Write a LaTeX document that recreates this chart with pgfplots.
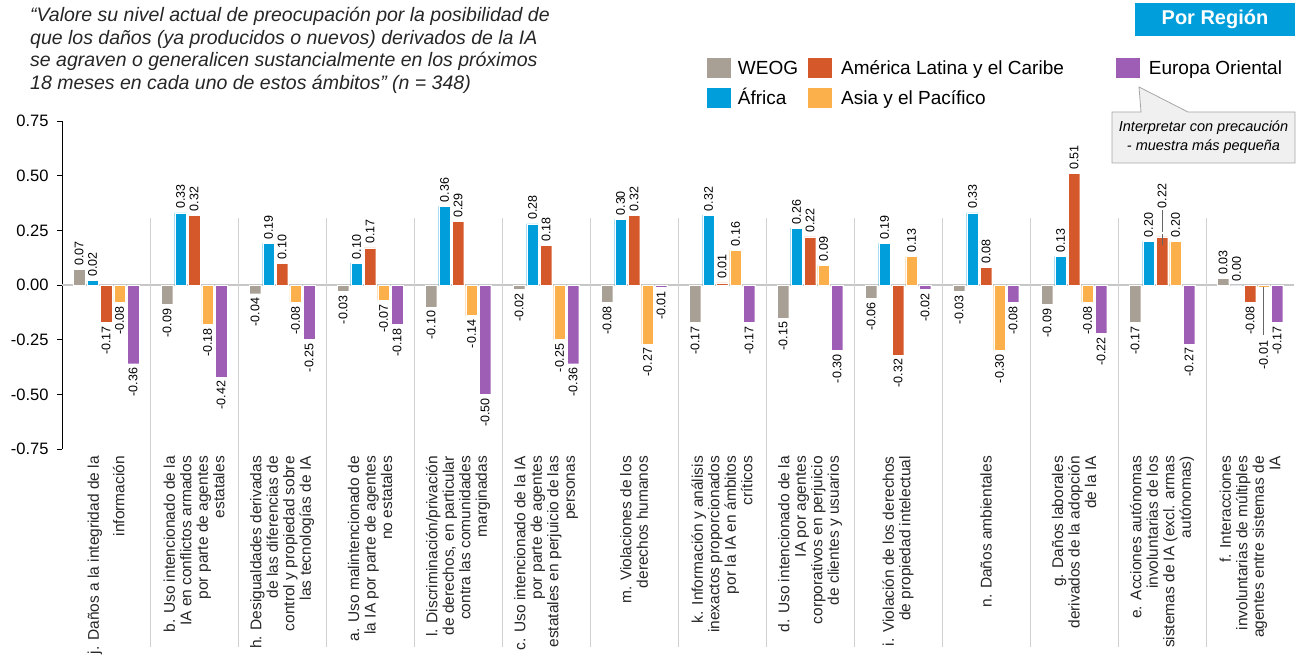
\documentclass[border=0pt]{standalone}
\usepackage{graphicx}
\usepackage{pgfplots}
\usepackage{pgfplotstable}
\pgfplotsset{compat=1.18}
\usepackage{fontspec}
\setmainfont{Liberation Sans}
\definecolor{cweog}{HTML}{A89F95}
\definecolor{cafr}{HTML}{009FDB}
\definecolor{clat}{HTML}{D5582A}
\definecolor{casia}{HTML}{FBB04B}
\definecolor{ceur}{HTML}{9E5EB5}
\definecolor{cbox}{HTML}{009FDB}
\def\chkanc#1#2\relax{\ifx-#1north\else south\fi}

\pgfplotstableread{
x y lbl
0 0.07 0.07
1 -0.09 -0.09
2 -0.04 -0.04
3 -0.03 -0.03
4 -0.10 -0.10
5 -0.02 -0.02
6 -0.08 -0.08
7 -0.17 -0.17
8 -0.15 -0.15
9 -0.06 -0.06
10 -0.03 -0.03
11 -0.09 -0.09
12 -0.17 -0.17
13 0.03 0.03
}\tweog

\pgfplotstableread{
x y lbl
0 0.02 0.02
1 0.33 0.33
2 0.19 0.19
3 0.10 0.10
4 0.36 0.36
5 0.28 0.28
6 0.30 0.30
7 0.32 0.32
8 0.26 0.26
9 0.19 0.19
10 0.33 0.33
11 0.13 0.13
12 0.20 0.20
13 0.00 0.00
}\tafr

\pgfplotstableread{
x y lbl
0 -0.17 -0.17
1 0.32 0.32
2 0.10 0.10
3 0.17 0.17
4 0.29 0.29
5 0.18 0.18
6 0.32 0.32
7 0.01 0.01
8 0.22 0.22
9 -0.32 -0.32
10 0.08 0.08
11 0.51 0.51
12 0.22 {}
13 -0.08 -0.08
}\tlat

\pgfplotstableread{
x y lbl
0 -0.08 -0.08
1 -0.18 -0.18
2 -0.08 -0.08
3 -0.07 -0.07
4 -0.14 -0.14
5 -0.25 -0.25
6 -0.27 -0.27
7 0.16 0.16
8 0.09 0.09
9 0.13 0.13
10 -0.30 -0.30
11 -0.08 -0.08
12 0.20 0.20
13 -0.01 {}
}\tasia

\pgfplotstableread{
x y lbl
0 -0.36 -0.36
1 -0.42 -0.42
2 -0.25 -0.25
3 -0.18 -0.18
4 -0.50 -0.50
5 -0.36 -0.36
6 -0.01 -0.01
7 -0.17 -0.17
8 -0.30 -0.30
9 -0.02 -0.02
10 -0.08 -0.08
11 -0.22 -0.22
12 -0.27 -0.27
13 -0.17 -0.17
}\teur

\pgfplotsset{
  sqleg/.style={legend image code/.code={\fill[##1,draw=none] (0pt,-10pt) rectangle (24pt,10pt);}},
  barlbl/.style={
    draw=white, line width=0.4pt,
    point meta=explicit symbolic,
    nodes near coords={\rotatebox{90}{\pgfplotspointmeta}},
    every node near coord/.append style={font=\fontsize{12.5}{12.5}\selectfont, fill=white, inner sep=1pt, outer sep=3pt, text=black,
      anchor={\expandafter\chkanc\pgfplotspointmeta x\relax}}},
}

\begin{document}
\begin{tikzpicture}
\useasboundingbox (0,0) rectangle (1302pt,658pt);
\begin{axis}[
  at={(62pt,209pt)}, anchor=south west,
  scale only axis, width=1232pt, height=328pt,
  xmin=-0.5, xmax=13.5, ymin=-0.75, ymax=0.75,
  ybar=2pt, bar width=11.5pt,
  axis x line*=bottom, x axis line style={draw=none},
  axis y line*=left, y axis line style={black, line width=0.8pt},
  ytick={-0.75,-0.5,-0.25,0,0.25,0.5,0.75},
  /pgf/number format/assume math mode=true,
  yticklabel style={font=\fontsize{16.5}{16.5}\selectfont, /pgf/number format/.cd, fixed, fixed zerofill, precision=2},
  yticklabel shift=5pt,
  tick align=outside, major tick length=5pt,
  ytick style={black, line width=0.8pt},
  xtick={0,...,13}, xtick style={draw=none},
  xticklabels={
    {j. Daños a la integridad de la\\[9pt]información},
    {b. Uso intencionado de la\\IA en conflictos armados\\por parte de agentes\\estatales},
    {h. Desigualdades derivadas\\de las diferencias de\\control y propiedad sobre\\las tecnologías de IA},
    {a. Uso malintencionado de\\la IA por parte de agentes\\no estatales},
    {l. Discriminación/privación\\de derechos, en particular\\contra las comunidades\\marginadas},
    {c. Uso intencionado de la IA\\por parte de agentes\\estatales en perjuicio de las\\personas},
    {m. Violaciones de los\\derechos humanos},
    {k. Información y análisis\\inexactos proporcionados\\por la IA en ámbitos\\críticos},
    {d. Uso intencionado de la\\IA por agentes\\corporativos en perjuicio\\de clientes y usuarios},
    {i. Violación de los derechos\\de propiedad intelectual},
    {n. Daños ambientales},
    {g. Daños laborales\\derivados de la adopción\\de la IA},
    {e. Acciones autónomas\\involuntarias de los\\sistemas de IA (excl. armas\\autónomas)},
    {f. Interacciones\\involuntarias de múltiples\\agentes entre sistemas de\\IA}},
  xticklabel style={rotate=90, anchor=east, align=right, font=\fontsize{15.5}{16.5}\selectfont, inner sep=2pt, text=black!85},
  clip=false,
  extra y ticks={0}, extra y tick labels={},
  extra y tick style={grid=major, major grid style={black!22, line width=1.5pt}},
  legend columns=3,
  legend cell align=left,
  legend style={at={(0.5235,1.192)}, anchor=north west, draw=none, fill=none, inner sep=0pt, outer sep=0pt,
    row sep=10pt, font=\fontsize{19}{19}\selectfont,
    nodes={inner sep=0pt, anchor=west, text height=13.6pt, text depth=0pt},
    /tikz/column 1/.style={column sep=7pt},
    /tikz/column 2/.style={column sep=10pt},
    /tikz/column 3/.style={column sep=9pt},
    /tikz/column 4/.style={column sep=52pt},
    /tikz/column 5/.style={column sep=9pt}},
]
\addlegendimage{sqleg, fill=cweog}\addlegendentry{WEOG}
\addlegendimage{sqleg, fill=clat}\addlegendentry{América Latina y el Caribe}
\addlegendimage{sqleg, fill=ceur}\addlegendentry{Europa Oriental}
\addlegendimage{sqleg, fill=cafr}\addlegendentry{África}
\addlegendimage{sqleg, fill=casia}\addlegendentry{Asia y el Pacífico}

\pgfplotsinvokeforeach{0.5,1.5,...,12.5}{\draw[black!18, line width=0.8pt] (axis cs:#1,0.306) -- (axis cs:#1,-1.655);}

\addplot[fill=cweog, barlbl] table[x=x, y=y, meta=lbl] {\tweog};
\addplot[fill=cafr, barlbl] table[x=x, y=y, meta=lbl] {\tafr};
\addplot[fill=clat, barlbl] table[x=x, y=y, meta=lbl] {\tlat};
\addplot[fill=casia, barlbl] table[x=x, y=y, meta=lbl] {\tasia};
\addplot[fill=ceur, barlbl] table[x=x, y=y, meta=lbl] {\teur};

\draw[black!60, line width=0.8pt] (axis cs:12,0.183) -- (axis cs:12,0.343);
\node[rotate=90, anchor=west, font=\fontsize{12.5}{12.5}\selectfont, inner sep=1pt] at (axis cs:12,0.345) {0.22};
\draw[black!60, line width=0.8pt] ([xshift=13.5pt]axis cs:13,-0.009) -- ([xshift=13.5pt]axis cs:13,-0.23);
\node[rotate=90, anchor=east, font=\fontsize{12.5}{12.5}\selectfont, inner sep=1pt] at ([xshift=13.5pt]axis cs:13,-0.25) {-0.01};
\end{axis}

\node[anchor=north west, align=left, font=\itshape\fontsize{19.5}{22.5}\selectfont, inner sep=0pt, text=black!85] at (30pt,651pt)
{“Valore su nivel actual de preocupación por la posibilidad de\\que los daños (ya producidos o nuevos) derivados de la IA\\se agraven o generalicen sustancialmente en los próximos\\18 meses en cada uno de estos ámbitos” (n = 348)};

\node[fill=cbox, text=white, font=\bfseries\fontsize{20}{20}\selectfont, minimum width=160pt, minimum height=33pt, inner sep=0pt] at (1215pt,638.5pt) {Por Región};

\filldraw[fill=black!6, draw=black!35, line width=0.8pt] (1112pt,546pt) -- (1141pt,546pt) -- (1139pt,571pt) -- (1188pt,546pt) -- (1295pt,546pt) -- (1295pt,495pt) -- (1112pt,495pt) -- cycle;
\node[align=center, font=\itshape\fontsize{14.5}{19}\selectfont, inner sep=0pt] at (1203.5pt,520.5pt) {Interpretar con precaución\\- muestra más pequeña};
\end{tikzpicture}
\end{document}
